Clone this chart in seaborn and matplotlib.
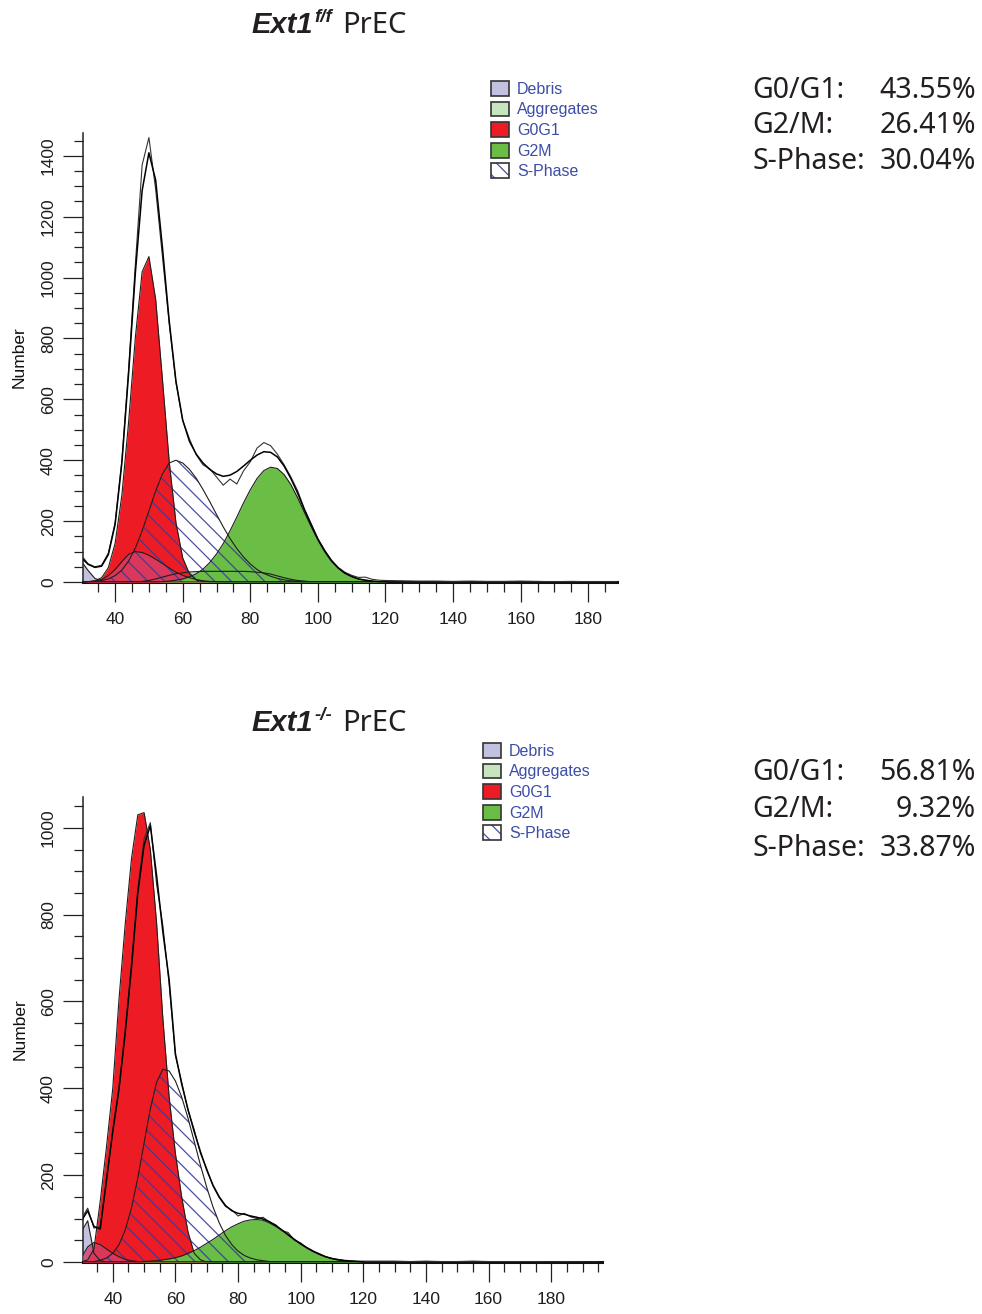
import matplotlib
matplotlib.use("Agg")
import matplotlib.pyplot as plt
from matplotlib.patches import Patch
from matplotlib.legend_handler import HandlerTuple
from matplotlib.ticker import MultipleLocator
import pandas as pd
import seaborn as sns

CHANNEL = list(range(30, 121, 2))
TAIL_CHANNEL = list(range(125, 196, 5))

# --- Ext1 f/f PrEC ---
TOP_DEBRIS = [68, 38, 12, 3] + [0] * 42
TOP_AGGREGATES = [0] * 9 + [2, 5, 10, 16, 22, 27, 30, 33, 34, 35, 35, 35, 35, 35, 35, 35,
                            34, 32, 30, 26, 20, 14, 9, 5, 3, 1] + [0] * 11
TOP_SHOULDER = [0, 1, 3, 8, 21, 41, 67, 91, 100, 97, 88, 75, 61, 46, 32, 22, 14, 8, 4, 2, 1] + [0] * 25
TOP_G0G1 = [0, 1, 4, 14, 47, 127, 285, 526, 805, 1019, 1069, 928, 666, 396, 195, 79, 27, 7, 2] + [0] * 27
TOP_SPHASE = [0, 1, 2, 5, 10, 21, 39, 69, 112, 168, 233, 299, 355, 391, 400, 391, 370, 341, 304,
              264, 222, 181, 143, 110, 82, 59, 41, 28, 19, 12, 7, 4, 3, 1, 1] + [0] * 11
TOP_G2M = [0] * 12 + [1, 3, 6, 10, 17, 27, 42, 64, 92, 126, 168, 213, 260, 303, 340, 366, 377, 373,
                      353, 320, 277, 229, 182, 138, 100, 69, 46, 29, 18, 10, 6, 3, 1, 1]
TOP_FIT = [80, 58, 48, 52, 90, 189, 391, 686, 1017, 1286, 1410, 1320, 1099, 858, 660, 532, 462, 420,
           391, 370, 355, 347, 351, 363, 381, 400, 417, 428, 426, 411, 381, 340, 292, 238, 188, 141,
           102, 70, 46, 29, 18, 10, 6, 3, 1, 1]
TOP_RAW = [88, 60, 50, 55, 95, 195, 400, 700, 1045, 1370, 1460, 1290, 1070, 850, 655, 530, 470, 418,
           385, 372, 345, 318, 338, 322, 365, 395, 440, 458, 448, 420, 385, 345, 300, 240, 192, 142,
           105, 72, 48, 32, 22, 15, 16, 9, 6, 5]
TOP_RAW_TAIL = [4, 3, 3, 2, 3, 2, 2, 3, 2, 1, 2, 1, 1, 1, 0]
TOP_STATS = ["43.55%", "26.41%", "30.04%"]

# --- Ext1 -/- PrEC ---
BOT_DEBRIS = [70, 95, 20, 3] + [0] * 42
BOT_AGGREGATES = [0] * 46
BOT_SHOULDER = [10, 35, 45, 40, 30, 20, 12, 6, 3, 1] + [0] * 36
BOT_G0G1 = [0, 5, 30, 140, 265, 400, 606, 780, 930, 1030, 1035, 950, 780, 560, 380, 250, 150, 70, 20, 5] + [0] * 26
BOT_SPHASE = [0, 0, 1, 4, 9, 20, 40, 74, 125, 194, 274, 353, 414, 444, 440, 417, 380, 332, 278, 223,
              172, 127, 90, 61, 40, 25, 15, 9, 5, 3, 1] + [0] * 15
BOT_G2M = [0] * 10 + [1, 2, 3, 5, 7, 10, 14, 20, 26, 34, 43, 52, 62, 72, 81, 88, 94, 97, 98, 96, 90,
                      82, 73, 62, 51, 41, 32, 24, 17, 12, 8, 5, 3, 2, 1, 0]
BOT_FIT = [95, 118, 82, 76, 190, 300, 400, 530, 680, 850, 960, 1005, 890, 760, 650, 480, 410, 352, 300,
           254, 212, 177, 150, 130, 118, 112, 110, 106, 103, 99, 93, 84, 74, 63, 52, 42, 33, 25, 18,
           12, 8, 5, 3, 2, 1, 0]
BOT_RAW = [100, 124, 78, 82, 185, 305, 395, 535, 690, 860, 975, 1012, 870, 775, 640, 475, 415, 350, 305,
           250, 215, 175, 148, 128, 120, 106, 112, 104, 100, 103, 92, 86, 72, 68, 50, 44, 32, 24, 19,
           12, 8, 6, 4, 3, 2, 2]
BOT_RAW_TAIL = [2, 2, 1, 2, 1, 1, 2, 1, 1, 1, 1, 0, 1, 0, 0]
BOT_STATS = ["56.81%", "9.32%", "33.87%"]

STAT_LABELS = ["G0/G1:", "G2/M:", "S-Phase:"]
LEGEND_LABELS = ["Debris", "Aggregates", "G0G1", "G2M", "S-Phase"]

DEBRIS_COLOR = "#C3C1E0"
AGG_COLOR = "#C6E4BE"
G0G1_COLOR = "#ED1C24"
G2M_COLOR = "#6ABD45"
SHOULDER_COLOR = "#D4406A"
HATCH_COLOR = (0.22, 0.23, 0.60, 0.9)
LINE_COLOR = "#1e1e1e"
LEGEND_TEXT = "#3C4DA6"
TEXT_COLOR = "#231F20"

sns.set_theme(style="ticks")
plt.rcParams["font.family"] = ["Liberation Sans", "DejaVu Sans"]
plt.rcParams["hatch.linewidth"] = 0.9

W, H = 982, 1314
fig = plt.figure(figsize=(W / 100, H / 100), dpi=100)
fig.patch.set_facecolor("white")


def px_axes(left, top, right, bottom):
    return fig.add_axes([left / W, 1 - bottom / H, (right - left) / W, (bottom - top) / H])


def draw_panel(ax, debris, aggregates, shoulder, g0g1, sphase, g2m, fit, raw, raw_tail, xmax, ymax):
    x = CHANNEL
    ax.fill_between(x, sphase, color="white", lw=0, zorder=1)
    ax.fill_between(x, aggregates, color=AGG_COLOR, lw=0, zorder=2)
    ax.fill_between(x, debris, color=DEBRIS_COLOR, lw=0, zorder=2)
    ax.fill_between(x, g0g1, color=G0G1_COLOR, lw=0, zorder=3)
    ax.fill_between(x, shoulder, color=SHOULDER_COLOR, alpha=0.8, lw=0, zorder=4)
    ax.fill_between(x, g2m, color=G2M_COLOR, lw=0, zorder=5)
    ax.fill_between(x, sphase, facecolor="none", edgecolor=HATCH_COLOR, hatch="\\\\", lw=0, zorder=6)
    for comp in (debris, aggregates, shoulder, g0g1, sphase, g2m):
        if max(comp) > 0:
            ax.plot(x, comp, color=LINE_COLOR, lw=0.8, zorder=7)

    raw_df = pd.DataFrame({"channel": CHANNEL + TAIL_CHANNEL, "count": raw + raw_tail})
    fit_df = pd.DataFrame({"channel": CHANNEL, "count": fit})
    sns.lineplot(data=raw_df, x="channel", y="count", ax=ax, color="#333333", lw=0.8,
                 estimator=None, sort=False, zorder=8)
    sns.lineplot(data=fit_df, x="channel", y="count", ax=ax, color="black", lw=1.1,
                 estimator=None, sort=False, zorder=9)

    ax.set_xlim(30.5, xmax)
    ax.set_ylim(0, ymax)
    sns.despine(ax=ax)
    ax.spines["left"].set_linewidth(1.1)
    ax.spines["left"].set_color("#222222")
    ax.spines["bottom"].set_linewidth(2.2)
    ax.spines["bottom"].set_color("#111111")
    ax.xaxis.set_major_locator(MultipleLocator(20))
    ax.xaxis.set_minor_locator(MultipleLocator(5))
    ax.yaxis.set_major_locator(MultipleLocator(200))
    ax.yaxis.set_minor_locator(MultipleLocator(50))
    ax.tick_params(axis="x", which="major", length=14.5, width=0.9, pad=7, labelsize=12.5,
                   color="#222222", labelcolor="#1e1e1e")
    ax.tick_params(axis="x", which="minor", length=7.5, width=0.9, color="#222222")
    ax.tick_params(axis="y", which="major", length=14.5, width=0.9, pad=5, labelsize=12.5,
                   labelrotation=90, color="#222222", labelcolor="#1e1e1e")
    ax.tick_params(axis="y", which="minor", length=6.5, width=0.9, color="#222222")
    ax.set_xlabel("")
    ax.set_ylabel("Number", fontsize=12.5, color="#111111")
    ax.yaxis.set_label_coords(-0.106, 0.5)
    ax.set_facecolor("white")


def add_legend(left, top):
    handles = [
        Patch(facecolor=DEBRIS_COLOR, edgecolor="#333333", lw=1.2),
        Patch(facecolor=AGG_COLOR, edgecolor="#333333", lw=1.2),
        Patch(facecolor=G0G1_COLOR, edgecolor="#333333", lw=1.2),
        Patch(facecolor=G2M_COLOR, edgecolor="#333333", lw=1.2),
        (Patch(facecolor="white", edgecolor=HATCH_COLOR, hatch="\\\\", lw=0),
         Patch(facecolor="none", edgecolor="#333333", lw=1.2)),
    ]
    fig.legend(handles, LEGEND_LABELS, loc="upper left",
               bbox_to_anchor=(left / W, 1 - top / H), bbox_transform=fig.transFigure,
               frameon=False, fontsize=11.5, labelcolor=LEGEND_TEXT, borderpad=0,
               handlelength=1.12, handleheight=1.04, handletextpad=0.5, labelspacing=0.3,
               borderaxespad=0, handler_map={tuple: HandlerTuple(ndivide=1, pad=0)})


def add_stats(values, baselines):
    for label, value, y in zip(STAT_LABELS, values, baselines):
        fig.text(752 / W, 1 - y / H, label, ha="left", va="baseline", fontsize=20.5,
                 family="Noto Sans", color=TEXT_COLOR)
        fig.text(976 / W, 1 - y / H, value, ha="right", va="baseline", fontsize=20.5,
                 family="Noto Sans", color=TEXT_COLOR)


def add_title(xc, baseline, sup):
    renderer = fig.canvas.get_renderer()
    main = fig.text(0, 0, "Ext1", fontsize=21, weight="bold", style="italic",
                    family="Liberation Sans", color=TEXT_COLOR, va="baseline")
    upper = fig.text(0, 0, sup, fontsize=13.5, weight="bold", style="italic",
                     family="Liberation Sans", color=TEXT_COLOR, va="baseline")
    rest = fig.text(0, 0, "PrEC", fontsize=21, family="Noto Sans", color=TEXT_COLOR, va="baseline")
    widths = [t.get_window_extent(renderer).width for t in (main, upper, rest)]
    gap_sup, gap_word = 2, 10
    x0 = xc - (sum(widths) + gap_sup + gap_word) / 2
    main.set_position((x0 / W, 1 - baseline / H))
    upper.set_position(((x0 + widths[0] + gap_sup) / W, 1 - (baseline - 11) / H))
    rest.set_position(((x0 + widths[0] + gap_sup + widths[1] + gap_word) / W, 1 - baseline / H))


ax_top = px_axes(83, 133, 617, 582)
ax_bot = px_axes(83, 797, 602, 1262)

draw_panel(ax_top, TOP_DEBRIS, TOP_AGGREGATES, TOP_SHOULDER, TOP_G0G1, TOP_SPHASE, TOP_G2M,
           TOP_FIT, TOP_RAW, TOP_RAW_TAIL, 188.5, 1475)
draw_panel(ax_bot, BOT_DEBRIS, BOT_AGGREGATES, BOT_SHOULDER, BOT_G0G1, BOT_SPHASE, BOT_G2M,
           BOT_FIT, BOT_RAW, BOT_RAW_TAIL, 196.2, 1071)

add_title(329, 33, "f/f")
add_title(329, 731, "-/-")

add_legend(491, 81)
add_legend(483, 743)
add_stats(TOP_STATS, [98, 133, 169])
add_stats(BOT_STATS, [780, 817, 856])

fig.canvas.draw()
for ax in (ax_top, ax_bot):
    for lbl in ax.get_yticklabels():
        lbl.set_va("center")

fig.savefig("out.png", dpi=100, facecolor="white")
